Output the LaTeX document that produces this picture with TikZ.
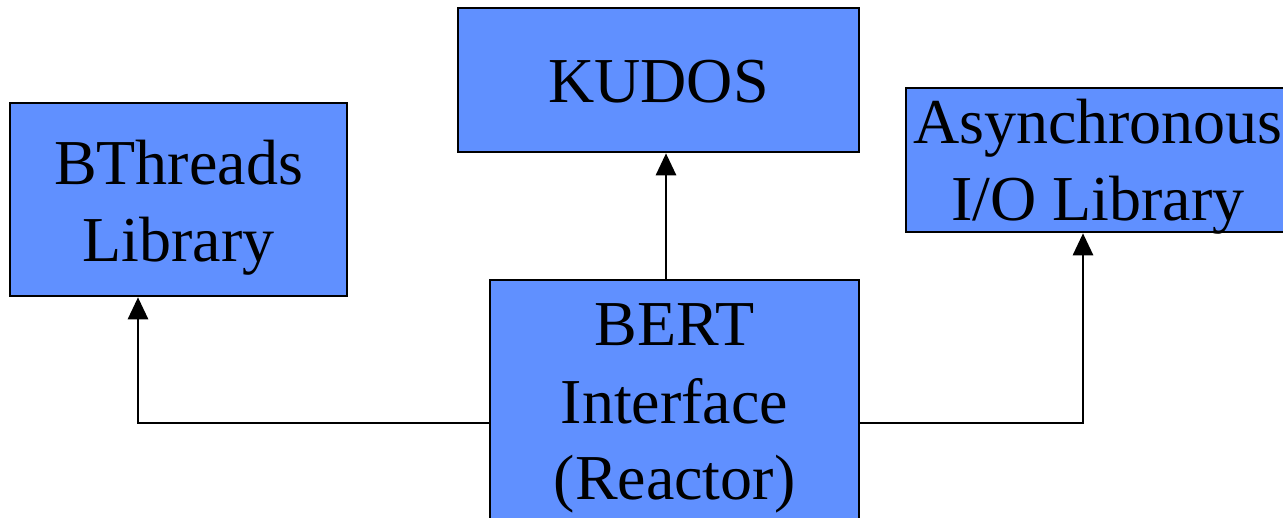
\documentclass[tikz,border=0pt]{standalone}
\usepackage{fontspec}
\setmainfont{Liberation Serif}
\usetikzlibrary{arrows.meta}
\definecolor{boxblue}{RGB}{96,144,255}
\tikzset{
  unit/.style={draw=black, line width=2.6pt, fill=boxblue, inner sep=0pt,
    align=center, font=\fontsize{64}{77}\selectfont, text depth=15pt},
  link/.style={line width=2.8pt, -{Triangle[width=20pt,length=22pt]}}
}
\begin{document}
\begin{tikzpicture}[x=1pt,y=-1pt]
  \useasboundingbox (0,0) rectangle (1283,518);
  \clip (0,0) rectangle (1283,518);
  \node[unit, minimum width=401pt, minimum height=144pt, text height=61pt]
    (kudos) at (658.5,80) {KUDOS};
  \node[unit, minimum width=337pt, minimum height=193pt, text height=140pt]
    (bthreads) at (178.5,199.5) {BThreads\\Library};
  \node[unit, minimum width=384pt, minimum height=144pt, text height=129pt, text depth=7pt]
    (async) at (1098,160) {Asynchronous\\I/O Library};
  \node[unit, minimum width=369pt, minimum height=254pt, text height=201pt]
    (bert) at (674.5,407) {BERT\\Interface\\(Reactor)};
  \coordinate (kx) at (666,0);
  \coordinate (lj) at (138,423);
  \coordinate (rj) at (1083,423);
  \draw[link] (bert.north -| kx) -- (kudos.south -| kx);
  \draw[link] (bert.west |- lj) -| (bthreads.south -| lj);
  \draw[link] (bert.east |- rj) -| (async.south -| rj);
\end{tikzpicture}
\end{document}
